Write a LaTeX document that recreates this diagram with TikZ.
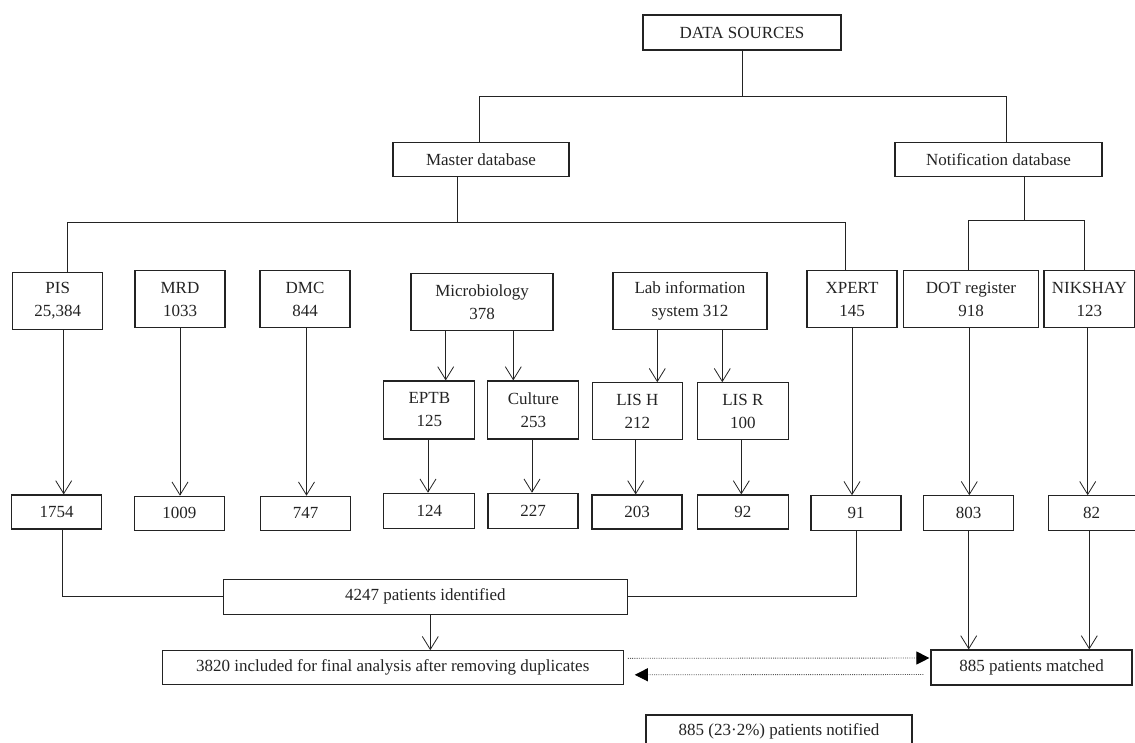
\documentclass[tikz,border=0pt]{standalone}
\usepackage{fontspec}
\setmainfont{Liberation Serif}
\usetikzlibrary{arrows.meta}

\tikzset{
  box/.style={draw=drawColor, line width=1.2pt, rectangle, align=center, inner sep=0pt, text=drawColor, font=\fontsize{17}{23}\selectfont},
  link/.style={draw=drawColor, line width=0.8pt},
  arr/.style={link, -{Straight Barb[length=13pt,width=16pt,line width=0.8pt]}},
  dotarr/.style={draw=gray!70!black, line width=0.9pt, dash pattern=on 1pt off 1.2pt, -{Triangle[length=13pt,width=13pt,color=black]}}
}

\begin{document}
\begin{tikzpicture}[x=1pt,y=-1pt]
\definecolor{drawColor}{RGB}{35,35,35}
\useasboundingbox (0,0) rectangle (1135,742);

\node[box, minimum width=198pt, minimum height=35pt] (data) at ( 742.00, 32.50) {DATA SOURCES};

\node[box, minimum width=176pt, minimum height=34pt] (master) at ( 481.00,159.30) {Master database};

\node[box, minimum width=207pt, minimum height=34pt] (notif) at ( 998.50,159.30) {Notification database};

\node[box, minimum width=90pt, minimum height=57pt] (pis) at (  57.70,300.80) {PIS\\25,384};

\node[box, minimum width=90pt, minimum height=57pt] (mrd) at ( 180.00,299.20) {MRD\\1033};

\node[box, minimum width=90pt, minimum height=57pt] (dmc) at ( 305.00,299.20) {DMC\\844};

\node[box, minimum width=142pt, minimum height=57pt] (micro) at ( 482.00,302.00) {Microbiology\\378};

\node[box, minimum width=154pt, minimum height=57pt] (lab) at ( 690.00,300.80) {Lab information\\system 312};

\node[box, minimum width=90pt, minimum height=57pt] (xpert) at ( 852.00,299.20) {XPERT\\145};

\node[box, minimum width=135pt, minimum height=57pt] (dot) at ( 971.00,299.20) {DOT register\\918};

\node[box, minimum width=91pt, minimum height=57pt] (nik) at (1089.40,299.20) {NIKSHAY\\123};

\node[box, minimum width=91pt, minimum height=58pt] (eptb) at ( 429.30,410.00) {EPTB\\125};

\node[box, minimum width=91pt, minimum height=58pt] (culture) at ( 533.30,410.00) {Culture\\253};

\node[box, minimum width=90pt, minimum height=57pt] (lish) at ( 637.30,411.30) {LIS H\\212};

\node[box, minimum width=91pt, minimum height=57pt] (lisr) at ( 742.80,411.30) {LIS R\\100};

\node[box, minimum width=90pt, minimum height=34pt] (n1754) at (  56.70,512.00) {1754};

\node[box, minimum width=90pt, minimum height=34pt] (n1009) at ( 179.30,513.30) {1009};

\node[box, minimum width=90pt, minimum height=34pt] (n747) at ( 305.70,513.30) {747};

\node[box, minimum width=91pt, minimum height=35pt] (n124) at ( 429.30,510.80) {124};

\node[box, minimum width=90pt, minimum height=35pt] (n227) at ( 533.00,510.80) {227};

\node[box, minimum width=90pt, minimum height=34pt] (n203) at ( 637.00,512.00) {203};

\node[box, minimum width=91pt, minimum height=34pt] (n92) at ( 742.80,512.00) {92};

\node[box, minimum width=90pt, minimum height=35pt] (n91) at ( 856.00,513.30) {91};

\node[box, minimum width=90pt, minimum height=35pt] (n803) at ( 968.70,513.30) {803};

\node[box, minimum width=87pt, minimum height=35pt] (n82) at (1091.60,513.30) {82};

\node[box, minimum width=404pt, minimum height=35pt] (found) at ( 425.30,596.70) {4247 patients identified};

\node[box, minimum width=461pt, minimum height=34pt] (final) at ( 392.70,667.80) {3820 included for final analysis after removing duplicates};

\node[box, minimum width=201pt, minimum height=35pt] (matched) at (1031.50,667.50) {885 patients matched};

\node[box, minimum width=266pt, minimum height=32pt] (notified) at ( 779.00,731.00) {885 (23·2\%) patients notified};

\coordinate (j0) at ( 742.00, 96.00);
\coordinate (j1) at ( 457.00,222.70);
\coordinate (j2) at (1024.00,220.70);

\draw[link] (data.south) -- (j0);
\draw[link] (j0) -| ([xshift=-2pt]master.north);
\draw[link] (j0) -| ([xshift=7.5pt]notif.north);

\draw[link] ([xshift=-24pt]master.south) -- (j1);
\draw[link] (j1) -| ([xshift=10pt]pis.north);
\draw[link] (j1) -| ([xshift=-7pt]xpert.north);

\draw[link] ([xshift=25.5pt]notif.south) -- (j2);
\draw[link] (j2) -| ([xshift=-3pt]dot.north);
\draw[link] (j2) -| ([xshift=-5pt]nik.north);

\draw[arr] ([xshift=6pt]pis.south) -- ([xshift=7pt]n1754.north);
\draw[arr] (mrd.south) -- (mrd.south |- n1009.north);
\draw[arr] ([xshift=1.5pt]dmc.south) -- ([xshift=1.5pt]dmc.south |- n747.north);

\draw[arr] ([xshift=16.4pt]eptb.north |- micro.south) -- ([xshift=16.4pt]eptb.north);
\draw[arr] ([xshift=-20pt]culture.north |- micro.south) -- ([xshift=-20pt]culture.north);
\draw[arr] ([xshift=20pt]lish.north |- lab.south) -- ([xshift=20pt]lish.north);
\draw[arr] ([xshift=-20.5pt]lisr.north |- lab.south) -- ([xshift=-20.5pt]lisr.north);

\draw[arr] ([xshift=-1.3pt]eptb.south) -- ([xshift=-1.3pt]eptb.south |- n124.north);
\draw[arr] ([xshift=-1.3pt]culture.south) -- ([xshift=-1.3pt]culture.south |- n227.north);
\draw[arr] ([xshift=-1.6pt]lish.south) -- ([xshift=-1.6pt]lish.south |- n203.north);
\draw[arr] ([xshift=-1.5pt]lisr.south) -- ([xshift=-1.5pt]lisr.south |- n92.north);

\draw[arr] (xpert.south) -- (xpert.south |- n91.north);
\draw[arr] ([xshift=-1.7pt]dot.south) -- ([xshift=-1.7pt]dot.south |- n803.north);
\draw[arr] ([xshift=-1.7pt]nik.south) -- ([xshift=-1.7pt]nik.south |- n82.north);

\draw[link] ([xshift=6pt]n1754.south) |- (found.west);
\draw[link] (n91.south) |- (found.east);

\draw[arr] ([xshift=5pt]found.south) -- ([xshift=5pt]found.south |- final.north);
\draw[arr] (n803.south) -- (n803.south |- matched.north);
\draw[arr] ([xshift=-2.3pt]n82.south) -- ([xshift=-2.3pt]n82.south |- matched.north);

\draw[dotarr] ([xshift=4pt,yshift=9.5pt]final.east) -- ([xshift=-1pt,yshift=9.5pt]matched.west);
\draw[dotarr] ([xshift=-7pt,yshift=-7pt]matched.west) -- ([xshift=11pt,yshift=-7pt]final.east);
\end{tikzpicture}
\end{document}
